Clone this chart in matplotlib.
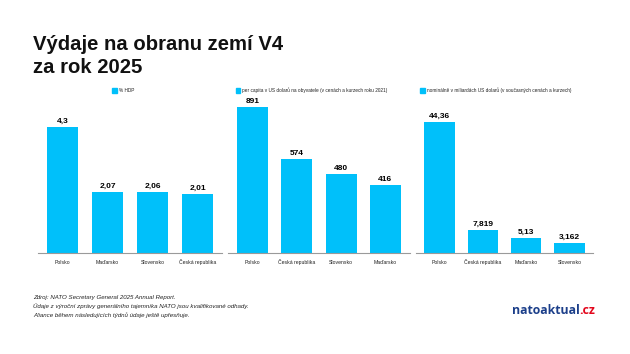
import matplotlib.pyplot as plt

plt.rcParams['font.family'] = ['Liberation Sans', 'DejaVu Sans']

# data
hdp_countries = ['Polsko', 'Maďarsko', 'Slovensko', 'Česká republika']
hdp_values = [4.3, 2.07, 2.06, 2.01]
hdp_labels = ['4,3', '2,07', '2,06', '2,01']

pc_countries = ['Polsko', 'Česká republika', 'Slovensko', 'Maďarsko']
pc_values = [891, 574, 480, 416]
pc_labels = ['891', '574', '480', '416']

nom_countries = ['Polsko', 'Česká republika', 'Maďarsko', 'Slovensko']
nom_values = [44.36, 7.819, 5.13, 3.162]
nom_labels = ['44,36', '7,819', '5,13', '3,162']

legends = ['% HDP',
           'per capita v US dolarů na obyvatele (v cenách a kurzech roku 2021)',
           'nominálně v miliardách US dolarů (v současných cenách a kurzech)']

W, H = 630, 354
BAR = '#00c0fa'
fig = plt.figure(figsize=(W / 100, H / 100), dpi=100)

def px(x0, y0, w, h):
    # pixel box (top-left origin) -> figure fraction
    return [x0 / W, 1 - (y0 + h) / H, w / W, h / H]

base_y, top_y = 252.7, 100
panels = [
    (62.5, 45.0, 5.21, hdp_countries, hdp_values, hdp_labels, (112, 119)),
    (252.5, 44.3, 935.6, pc_countries, pc_values, pc_labels, (236, 242)),
    (439.5, 43.3, 51.9, nom_countries, nom_values, nom_labels, (420, 427)),
]

for i, (c0, step, ymax, cats, vals, labs, leg) in enumerate(panels):
    left = c0 - 0.55 * step
    ax = fig.add_axes(px(left, top_y, 4.1 * step, base_y - top_y))
    xs = range(len(cats))
    ax.bar(xs, vals, width=0.7, color=BAR)
    for x, v, t in zip(xs, vals, labs):
        ax.annotate(t, (x, v), xytext=(0, 1.5), textcoords='offset points',
                    ha='center', va='bottom', fontsize=6, fontweight='bold')
    # category names, all on one baseline
    for x, c in zip(xs, cats):
        ax.annotate(c, (x, 0), xytext=(0, -8.2), textcoords='offset points',
                    ha='center', va='baseline', fontsize=3.7, color='#222222',
                    annotation_clip=False)
    ax.set_xlim(-0.55, 3.55)
    ax.set_ylim(0, ymax)
    ax.set_xticks([])
    ax.set_yticks([])
    for s in ['top', 'left', 'right']:
        ax.spines[s].set_visible(False)
    ax.spines['bottom'].set_color('#9a9a9a')
    ax.spines['bottom'].set_linewidth(0.8)

    # legend square + text
    sq, tx = leg
    fig.patches.append(plt.Rectangle((sq / W, 1 - 92.5 / H), 4.5 / W, 4.5 / H,
                                     transform=fig.transFigure, color=BAR))
    fig.text(tx / W, 1 - 90.5 / H, legends[i], fontsize=3.4, va='center',
             color='#222222')

# title
fig.text(33 / W, 1 - 50 / H, 'Výdaje na obranu zemí V4', fontsize=14.6,
         fontweight='bold', va='baseline', color='#111111')
fig.text(33 / W, 1 - 73 / H, 'za rok 2025', fontsize=14.6,
         fontweight='bold', va='baseline', color='#111111')

# footer
foot = ['Zdroj: NATO Secretary General 2025 Annual Report.',
        'Údaje z výroční zprávy generálního tajemníka NATO jsou kvalifikované odhady.',
        'Aliance během následujících týdnů údaje ještě upřesňuje.']
for k, line in enumerate(foot):
    fig.text(33 / W, 1 - (299.5 + 8.5 * k) / H, line, fontsize=4.4,
             style='italic', va='baseline', color='#222222')

t1 = fig.text(512 / W, 1 - 310 / H, 'natoaktual', fontsize=8.8,
              family=['Open Sans', 'DejaVu Sans'], fontweight='bold',
              va='center', color='#1c3f8a')
fig.canvas.draw()
bb = t1.get_window_extent()
fig.text((bb.x1 - 0.5) / W, 1 - 310 / H, '.cz', fontsize=8.8,
         family=['Open Sans', 'DejaVu Sans'], fontweight='bold',
         va='center', color='#e3051b')

fig.savefig('out.png', dpi=100)
